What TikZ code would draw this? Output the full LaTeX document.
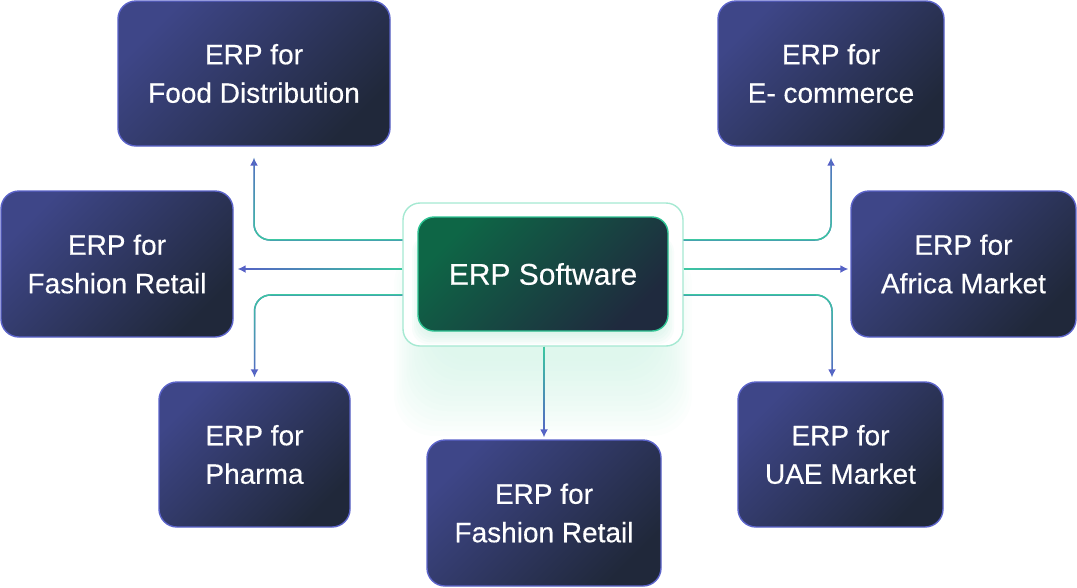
\documentclass[tikz,border=0pt]{standalone}
\usepackage{fontspec}
\setmainfont{Liberation Sans}[FakeBold=0.35]
\usetikzlibrary{arrows.meta,fadings,shadings}
\definecolor{cteal}{HTML}{3CC9A1}
\definecolor{cblue}{HTML}{5660C6}
\definecolor{bxlight}{HTML}{3E4688}
\definecolor{bxdark}{HTML}{20283A}
\definecolor{bxborder}{HTML}{5B63C9}
\definecolor{hublight}{HTML}{0E6646}
\definecolor{hubdark}{HTML}{1F2A3E}
\definecolor{hubborder}{HTML}{2EC393}
\definecolor{outerborder}{HTML}{A5E9D2}
\definecolor{glowc}{HTML}{C9F1E1}
\tikzfading[name=fadeup, bottom color=transparent!0, top color=transparent!100]
\tikzfading[name=fadedown, top color=transparent!0, bottom color=transparent!100]
\tikzfading[name=fadeleft, right color=transparent!0, left color=transparent!100]
\tikzfading[name=faderight, left color=transparent!0, right color=transparent!100]
\newcommand\myconn[2]{\draw[connbase]#2;\draw[connover,#1]#2;}
\begin{document}
\begin{tikzpicture}[x=1pt,y=-1pt,
  erpbox/.style={rectangle, rounded corners=18pt, draw=bxborder, line width=1.4pt,
    top color=bxlight, bottom color=bxdark, shading angle=45, text=white,
    align=center, inner sep=0pt, font=\fontsize{28}{38.5}\selectfont},
  connbase/.style={draw=cblue, line width=1.5pt, rounded corners=16pt, -{Latex[length=8pt,width=8pt]}},
  connover/.style={draw=cteal, line width=1.5pt, rounded corners=16pt},
  glowlayer/.style={fill=glowc, opacity=0.055}]
\useasboundingbox (0,0) rectangle (1077,587);
% soft glow below the hub
\foreach \i in {1,...,16}
  \fill[glowlayer, rounded corners=40pt] (434-2.5*\i, 276-2*\i) rectangle (652+2.5*\i, 356+5*\i);
% outer hub
\node[rectangle, rounded corners=17pt, draw=outerborder, line width=1.4pt, fill=white,
  minimum width=280pt, minimum height=143pt, inner sep=0pt] (hubo) at (543,274.5) {};
\foreach \i in {1,...,6}
  \fill[fill=glowc, opacity=0.13, rounded corners=16pt] (424-2*\i, 236) rectangle (662+2*\i, 332+2*\i);
% boxes
\node[erpbox, minimum width=272pt, minimum height=145pt] (food) at (254,73.5) {ERP for\\Food Distribution};
\node[erpbox, minimum width=226pt, minimum height=145pt] (ecom) at (831,73.5) {ERP for\\E- commerce};
\node[erpbox, minimum width=232pt, minimum height=146pt] (fashl) at (117,264) {ERP for\\Fashion Retail};
\node[erpbox, minimum width=225pt, minimum height=146pt] (africa) at (963.5,264) {ERP for\\Africa Market};
\node[erpbox, minimum width=191pt, minimum height=145pt] (pharma) at (254.5,454.5) {ERP for\\Pharma};
\node[erpbox, minimum width=234pt, minimum height=146pt] (fashb) at (544,513) {ERP for\\Fashion Retail};
\node[erpbox, minimum width=205pt, minimum height=145pt] (uae) at (840.5,454.5) {ERP for\\UAE Market};
% inner hub
\node[rectangle, rounded corners=16pt, draw=hubborder, line width=1.4pt,
  top color=hublight, bottom color=hubdark, shading angle=45, text=white,
  minimum width=250pt, minimum height=114pt, inner sep=0pt,
  font=\fontsize{30}{36}\selectfont] (hub) at (543,274) {ERP Software};
% connectors
\myconn{path fading=fadeup}{[shorten >=11pt] (hubo.west |- 0,240) -| (food.south)}
\myconn{fit fading=false, path fading=fadeleft, fading transform={shift={(320,269)}, xscale=3.3}}{[shorten >=4pt] (hubo.west |- 0,269) -- (fashl.east |- 0,269)}
\myconn{path fading=fadedown}{[shorten >=4pt] (hubo.west |- 0,295) -| (pharma.north)}
\myconn{path fading=fadeup}{[shorten >=11pt] (hubo.east |- 0,240) -| (ecom.south)}
\myconn{fit fading=false, path fading=faderight, fading transform={shift={(766,269)}, xscale=3.3}}{[shorten >=2pt] (hubo.east |- 0,269) -- (africa.west |- 0,269)}
\myconn{path fading=fadedown}{[shorten >=4pt] (hubo.east |- 0,295) -| (uae.north -| 832,0)}
\myconn{fit fading=false, path fading=fadedown, fading transform={shift={(544,392)}, yscale=1.84}}{[shorten >=2pt] (hubo.south -| fashb.north) -- (fashb.north)}
\end{tikzpicture}
\end{document}
